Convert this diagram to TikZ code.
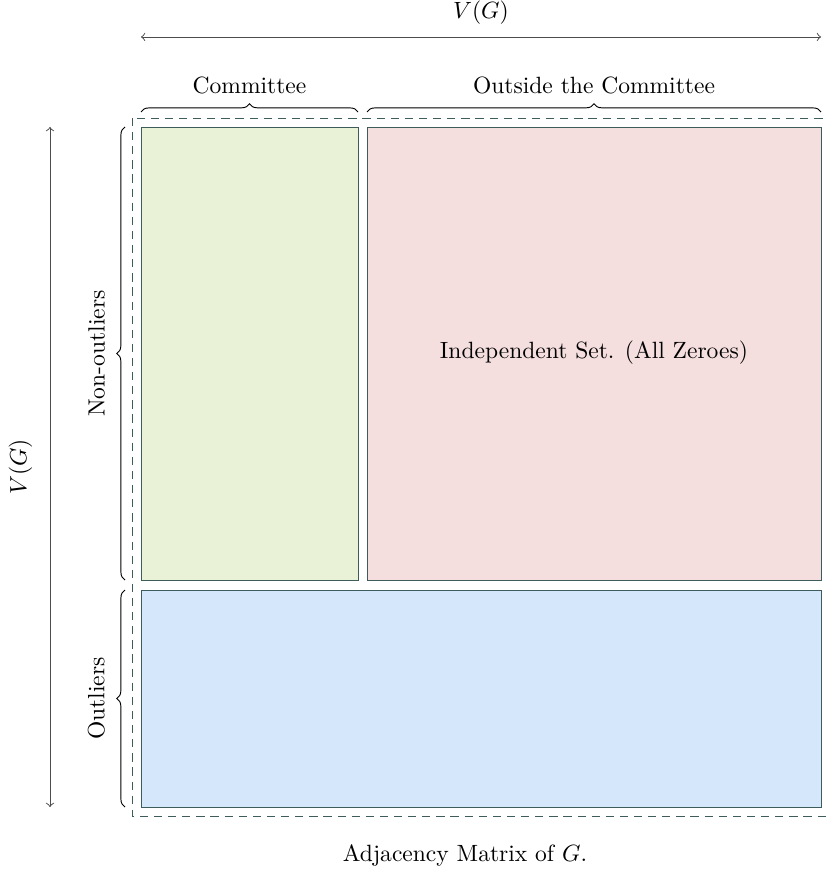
\documentclass[tikz,border=0pt]{standalone}
\usetikzlibrary{decorations.pathreplacing}
\definecolor{rand}{HTML}{3E5C5C}
\definecolor{gruen}{HTML}{E9F2D6}
\definecolor{rosa}{HTML}{F4DEDE}
\definecolor{blau}{HTML}{D4E7FB}
\tikzset{
  feld/.style={draw=rand, thin},
  klammer/.style={decorate, decoration={brace, amplitude=3.5pt}},
  pfeil/.style={<->, black!70},
}
\begin{document}
\begin{tikzpicture}[x=0.425pt, y=-0.425pt]
        \useasboundingbox (0,0) rectangle (827,871);
        % Ecken
        \coordinate (gl) at (141,127);
        \coordinate (gr) at (358,580);
        \coordinate (rl) at (367,127);
        \coordinate (rr) at (821,580);
        \coordinate (bl) at (141,590);
        \coordinate (br) at (821,807);
        % Rahmen
        \draw [rand, dash pattern=on 3.5pt off 2.5pt] (132,118) rectangle (831,816);
        % Bloecke
        \draw [feld, fill=gruen] (gl) rectangle (gr);
        \draw [feld, fill=rosa] (rl) rectangle (rr);
        \draw [feld, fill=blau] (bl) rectangle (br);
        \node (indep) at (594,353) {Independent Set. (All Zeroes)};
        % Klammern oben
        \draw [klammer] (141,112) -- (358,112) node[midway, above=4pt] (komitee) {Committee};
        \draw [klammer] (367,112) -- (821,112) node[midway, above=4pt] (aussen) {Outside the Committee};
        % Klammern links
        \draw [klammer] (125,580) -- (125,127) node[midway, left=5pt, rotate=90, anchor=south] (nonout) {Non-outliers};
        \draw [klammer] (125,807) -- (125,590) node[midway, left=5pt, rotate=90, anchor=south] (out) {Outliers};
        % V(G)
        \coordinate (oa) at (141,37);
        \coordinate (ob) at (821,37);
        \draw [pfeil] (oa) -- (ob) node[midway, above=2pt, black] (vgo) {$V(G)$};
        \coordinate (la) at (50,127);
        \coordinate (lb) at (50,807);
        \draw [pfeil] (la) -- (lb) node[midway, rotate=90, above=4pt, black] (vgl) {$V(G)$};
        % Unterschrift
        \node (titel) at (465,855) {Adjacency Matrix of $G$.};
\end{tikzpicture}
\end{document}
